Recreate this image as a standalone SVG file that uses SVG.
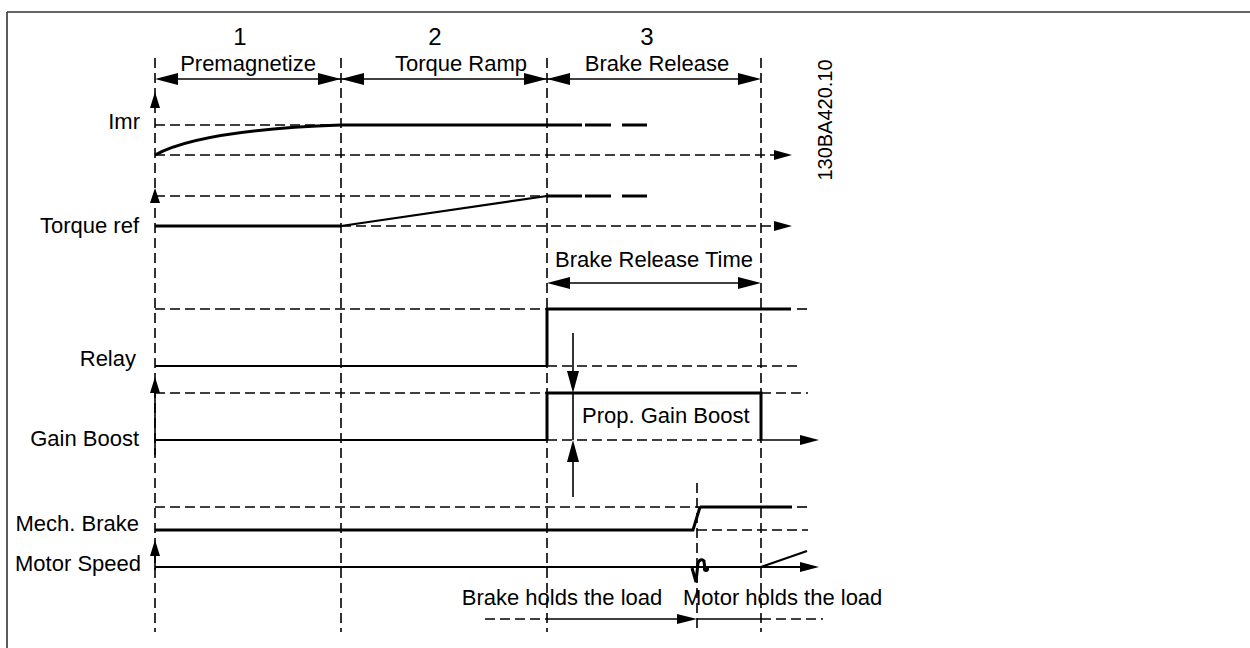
<svg xmlns="http://www.w3.org/2000/svg" width="1250" height="648" viewBox="0 0 1250 648">
<style>
text{font-family:"Liberation Sans",Arial,sans-serif;fill:#000}
.lbl{font-size:22px}
.num{font-size:24px}
.code{font-size:20px}
.dash{stroke:#000;stroke-width:1.6;stroke-dasharray:10 5;fill:none}
.thin{stroke:#000;stroke-width:1.6;fill:none}
.sig{stroke:#000;stroke-width:3;fill:none}
.sig2{stroke:#000;stroke-width:2.2;fill:none}
.head{fill:#000;stroke:none}
</style>
<rect width="1250" height="648" fill="#fff"/>
<g id="frame">
<line x1="7" y1="12" x2="1250" y2="12" stroke="#333" stroke-width="1.6"/>
<line x1="7" y1="12" x2="7" y2="648" stroke="#333" stroke-width="1.6"/>
</g>
<g id="labels">
<text class="num" x="240" y="45" text-anchor="middle">1</text>
<text class="num" x="435" y="45" text-anchor="middle">2</text>
<text class="num" x="647" y="45" text-anchor="middle">3</text>
<text class="lbl" x="248" y="71" text-anchor="middle">Premagnetize</text>
<text class="lbl" x="461" y="71" text-anchor="middle">Torque Ramp</text>
<text class="lbl" x="657" y="71" text-anchor="middle">Brake Release</text>
<text class="lbl" x="140" y="129" text-anchor="end">Imr</text>
<text class="lbl" x="139" y="233" text-anchor="end">Torque ref</text>
<text class="lbl" x="654" y="267" text-anchor="middle">Brake Release Time</text>
<text class="lbl" x="136" y="366" text-anchor="end">Relay</text>
<text class="lbl" x="139" y="446" text-anchor="end">Gain Boost</text>
<text class="lbl" x="582" y="423">Prop. Gain Boost</text>
<text class="lbl" x="139" y="531" text-anchor="end">Mech. Brake</text>
<text class="lbl" x="141" y="571" text-anchor="end">Motor Speed</text>
<text class="lbl" x="562" y="605" text-anchor="middle">Brake holds the load</text>
<text class="lbl" x="683" y="605">Motor holds the load</text>
<text class="code" transform="translate(832,120) rotate(-90)" text-anchor="middle">130BA420.10</text>
</g>
<g id="connectors">
<line class="dash" x1="155" y1="58" x2="155" y2="632"/>
<line class="dash" x1="341" y1="58" x2="341" y2="632"/>
<line class="dash" x1="547" y1="58" x2="547" y2="632"/>
<line class="dash" x1="761" y1="58" x2="761" y2="632"/>
<line class="dash" x1="697" y1="483" x2="697" y2="632"/>
<line class="thin" x1="170" y1="79" x2="745" y2="79" stroke-width="2"/>
<path class="head" d="M155 79 L178 73 L178 85 Z"/>
<path class="head" d="M341 79 L318 73 L318 85 Z"/>
<path class="head" d="M341 79 L364 73 L364 85 Z"/>
<path class="head" d="M547 79 L524 73 L524 85 Z"/>
<path class="head" d="M547 79 L570 73 L570 85 Z"/>
<path class="head" d="M761 79 L738 73 L738 85 Z"/>
<path class="head" d="M155 92 L150 108 L160 108 Z"/>
<line class="dash" x1="155" y1="125" x2="341" y2="125"/>
<path class="sig" d="M155 155 Q 200 130 341 125"/>
<line class="sig" x1="341" y1="125" x2="582" y2="125"/>
<line class="sig" x1="585" y1="125" x2="611" y2="125"/>
<line class="sig" x1="622" y1="125" x2="647" y2="125"/>
<line class="dash" x1="155" y1="155" x2="775" y2="155"/>
<path class="head" d="M792 155 L774 150 L774 160 Z"/>
<path class="head" d="M155 188 L150 203 L160 203 Z"/>
<line class="dash" x1="155" y1="196" x2="547" y2="196"/>
<line class="sig" x1="547" y1="196" x2="582" y2="196"/>
<line class="sig" x1="585" y1="196" x2="611" y2="196"/>
<line class="sig" x1="622" y1="196" x2="647" y2="196"/>
<line class="sig" x1="155" y1="226" x2="341" y2="226"/>
<line class="sig2" x1="341" y1="226" x2="547" y2="196"/>
<line class="dash" x1="341" y1="226" x2="775" y2="226"/>
<path class="head" d="M792 226 L774 221 L774 231 Z"/>
<line class="thin" x1="565" y1="283" x2="745" y2="283" stroke-width="2"/>
<path class="head" d="M547 283 L570 277 L570 289 Z"/>
<path class="head" d="M761 283 L738 277 L738 289 Z"/>
<line class="dash" x1="155" y1="309" x2="547" y2="309"/>
<line class="sig" x1="547" y1="309" x2="791" y2="309"/>
<line class="dash" x1="797" y1="309" x2="808" y2="309"/>
<line class="sig2" x1="155" y1="366" x2="547" y2="366"/>
<line class="sig" x1="547" y1="366" x2="547" y2="308"/>
<line class="dash" x1="547" y1="366" x2="797" y2="366"/>
<line class="thin" x1="155" y1="390" x2="155" y2="455" stroke-width="2"/>
<path class="head" d="M155 377 L150 393 L160 393 Z"/>
<line class="dash" x1="155" y1="393" x2="547" y2="393"/>
<line class="dash" x1="761" y1="393" x2="808" y2="393"/>
<path class="sig2" d="M155 440 L547 440"/>
<path class="sig" d="M547 440 L547 393 L761 393 L761 440"/>
<line class="dash" x1="547" y1="440" x2="761" y2="440"/>
<line class="thin" x1="761" y1="440" x2="802" y2="440" stroke-width="2"/>
<path class="head" d="M819 440 L800 435 L800 445 Z"/>
<line class="thin" x1="573" y1="333" x2="573" y2="375"/>
<path class="head" d="M573 393 L567 371 L579 371 Z"/>
<line class="thin" x1="573" y1="458" x2="573" y2="497"/>
<path class="head" d="M573 440 L567 462 L579 462 Z"/>
<line class="thin" x1="573" y1="393" x2="573" y2="440"/>
<line class="dash" x1="155" y1="507" x2="700" y2="507"/>
<line class="sig" x1="700" y1="507" x2="792" y2="507"/>
<line class="dash" x1="797" y1="507" x2="808" y2="507"/>
<path class="sig" d="M155 530 L693 530 L700 507"/>
<line class="dash" x1="697" y1="530" x2="808" y2="530"/>
<line class="thin" x1="155" y1="552" x2="155" y2="570" stroke-width="2"/>
<path class="head" d="M155 540 L150 556 L160 556 Z"/>
<line class="sig2" x1="155" y1="567" x2="802" y2="567"/>
<path class="head" d="M819 567 L800 562 L800 572 Z"/>
<line class="sig2" x1="761" y1="567" x2="807" y2="551"/>
<path class="sig" d="M692 568 L696 582 L698 563 Q 700 558 704 561 L705 570" stroke-width="2.6"/>
<circle cx="706" cy="569" r="3" fill="#000"/>
<line class="dash" x1="485" y1="619" x2="547" y2="619"/>
<line class="thin" x1="547" y1="619" x2="680" y2="619"/>
<path class="head" d="M697 619 L677 614 L677 624 Z"/>
<line class="thin" x1="697" y1="619" x2="761" y2="619"/>
<line class="dash" x1="761" y1="619" x2="823" y2="619"/>
</g>
</svg>
